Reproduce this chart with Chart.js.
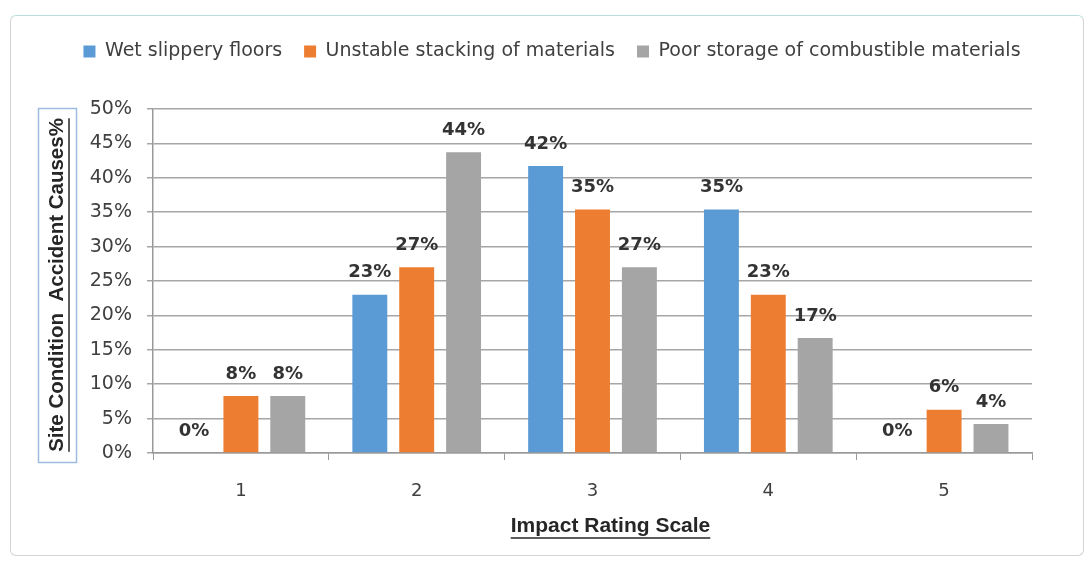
<!DOCTYPE html>
<html>
<head>
<meta charset="utf-8">
<script src="https://cdn.jsdelivr.net/npm/chart.js@4.4.1/dist/chart.umd.min.js"></script>
<style>
  body { margin: 0; background: #fff; }
  #wrap { position: relative; width: 1092px; height: 561px; }
  #frame { position: absolute; left: 10px; top: 15px; width: 1074px; height: 541px;
           border: 1px solid #d4d4d4; border-top-color: #b8dede; border-radius: 6px; box-sizing: border-box; }
  canvas { position: absolute; left: 0; top: 0; }
</style>
</head>
<body>
<div id="wrap">
  <div id="frame"></div>
  <canvas id="chart" width="1092" height="561"></canvas>
</div>
<script>
const ratings = ['1', '2', '3', '4', '5'];
const wetFloors = [0, 23, 41.7, 35.4, 0];
const unstableStacking = [8.3, 27, 35.4, 23, 6.3];
const poorStorage = [8.3, 43.7, 27, 16.7, 4.2];
const yTicks = [0, 5, 10, 15, 20, 25, 30, 35, 40, 45, 50];

const textDark = '#404040';

// bold % labels sitting above each bar
const barLabels = {
  id: 'barLabels',
  afterDatasetsDraw(chart) {
    const ctx = chart.ctx;
    ctx.save();
    ctx.font = 'bold 18px "DejaVu Sans"';
    ctx.fillStyle = '#333';
    ctx.textAlign = 'center';
    ctx.textBaseline = 'middle';
    chart.data.datasets.forEach((ds, i) => {
      chart.getDatasetMeta(i).data.forEach((bar, j) => {
        ctx.fillText(Math.round(ds.data[j]) + '%', bar.x, bar.y - 22);
      });
    });
    ctx.restore();
  }
};

// extra space under the legend, and nudge it right
const legendGap = {
  id: 'legendGap',
  beforeInit(chart) {
    const fit = chart.legend.fit;
    chart.legend.fit = function () {
      fit.bind(chart.legend)();
      this.height += 38;
    };
  },
  afterLayout(chart) {
    chart.legend.left += 36;
    chart.legend.right += 36;
  }
};

// underlined axis titles, y title inside a thin box
const axisTitles = {
  id: 'axisTitles',
  afterDraw(chart) {
    const ctx = chart.ctx;
    const area = chart.chartArea;
    ctx.save();
    ctx.fillStyle = '#262626';
    ctx.strokeStyle = '#262626';
    ctx.lineWidth = 1.5;
    ctx.textAlign = 'center';
    ctx.textBaseline = 'middle';

    ctx.font = 'bold 21px "Liberation Sans"';
    const xt = 'Impact Rating Scale';
    const xw = ctx.measureText(xt).width;
    const cx = (area.left + area.right) / 2 + 18;
    ctx.fillText(xt, cx, 526);
    ctx.beginPath();
    ctx.moveTo(cx - xw / 2, 538);
    ctx.lineTo(cx + xw / 2, 538);
    ctx.stroke();

    ctx.font = 'bold 20.5px "Liberation Sans"';
    const yt = 'Site Condition  Accident Causes%';
    ctx.translate(57, 285);
    ctx.rotate(-Math.PI / 2);
    const yw = ctx.measureText(yt).width;
    ctx.fillText(yt, 0, 0);
    ctx.beginPath();
    ctx.moveTo(-yw / 2, 12);
    ctx.lineTo(yw / 2, 12);
    ctx.stroke();
    ctx.restore();

    ctx.save();
    ctx.strokeStyle = '#9dbbe0';
    ctx.lineWidth = 1.5;
    ctx.strokeRect(38.5, 108.5, 38, 354);
    ctx.restore();
  }
};

new Chart(document.getElementById('chart'), {
  type: 'bar',
  data: {
    labels: ratings,
    datasets: [
      { label: 'Wet slippery floors', data: wetFloors, backgroundColor: '#5B9BD5' },
      { label: 'Unstable stacking of materials', data: unstableStacking, backgroundColor: '#ED7D31' },
      { label: 'Poor storage of combustible materials', data: poorStorage, backgroundColor: '#A5A5A5' }
    ]
  },
  options: {
    responsive: false,
    animation: false,
    datasets: { bar: { categoryPercentage: 0.8, barPercentage: 0.745 } },
    layout: { padding: { left: 0, right: 60, top: 20, bottom: 0 } },
    plugins: {
      tooltip: { enabled: false },
      legend: {
        position: 'top',
        labels: {
          font: { family: 'DejaVu Sans', size: 19 },
          color: textDark,
          boxWidth: 12,
          boxHeight: 12,
          padding: 22
        }
      }
    },
    scales: {
      x: {
        afterFit(scale) { scale.height = 108; },
        grid: { offset: true, drawOnChartArea: false, tickLength: 7, color: '#999' },
        border: { color: '#999', width: 1.5 },
        ticks: { font: { family: 'DejaVu Sans', size: 18 }, color: textDark, padding: 21 }
      },
      y: {
        min: 0,
        max: 50,
        afterFit(scale) { scale.width = 153; },
        afterBuildTicks(scale) { scale.ticks = yTicks.map(v => ({ value: v })); },
        grid: { color: '#a6a6a6', lineWidth: 1.5, tickLength: 6 },
        border: { color: '#999', width: 1.5 },
        ticks: {
          font: { family: 'DejaVu Sans', size: 19 },
          color: textDark,
          padding: 15,
          callback: v => v + '%'
        }
      }
    }
  },
  plugins: [barLabels, legendGap, axisTitles]
});
</script>
</body>
</html>
